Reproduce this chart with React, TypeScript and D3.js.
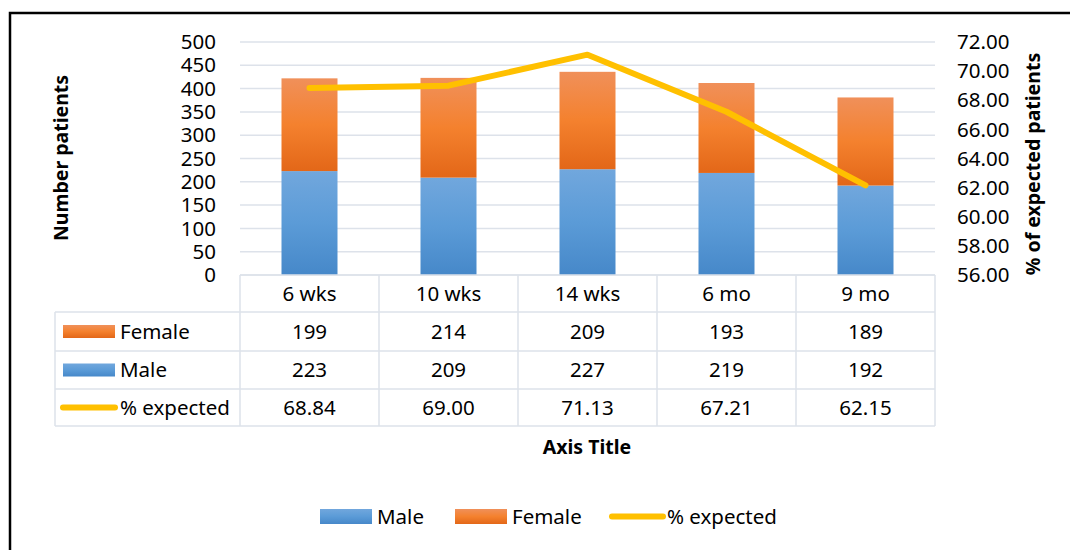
import React from "react";
import * as d3 from "d3";

const categories = ["6 wks", "10 wks", "14 wks", "6 mo", "9 mo"];
const maleValues = [223, 209, 227, 219, 192];
const femaleValues = [199, 214, 209, 193, 189];
const pctExpected = [68.84, 69.0, 71.13, 67.21, 62.15];
const pctLabels = ["68.84", "69.00", "71.13", "67.21", "62.15"];
const leftTicks = [0, 50, 100, 150, 200, 250, 300, 350, 400, 450, 500];
const rightTicks = [56, 58, 60, 62, 64, 66, 68, 70, 72];

const FONT = "Noto Sans, sans-serif";

export default function App() {
  const W = 1070, H = 550;
  const plotL = 240, plotR = 935, plotT = 42, plotB = 275;
  const x = d3.scaleBand<string>().domain(categories).range([plotL, plotR]).paddingInner(0).paddingOuter(0);
  const yL = d3.scaleLinear().domain([0, 500]).range([plotB, plotT]);
  const yR = d3.scaleLinear().domain([56, 72]).range([plotB, plotT]);
  const barW = 56;
  const cx = (c: string) => (x(c) as number) + x.bandwidth() / 2;

  const line = d3.line<number>()
    .x((_, i) => cx(categories[i]))
    .y((d) => yR(d));

  const rowTops = [275, 312, 351, 389, 426];
  const tableLeft = 55;
  const gridColor = "#dde2ea";
  const fs = 20.5;
  const tfs = 19.5;

  const rows = [
    { name: "Female", type: "bar", fill: "url(#gFemale)", vals: femaleValues.map(String) },
    { name: "Male", type: "bar", fill: "url(#gMale)", vals: maleValues.map(String) },
    { name: "% expected", type: "line", fill: "#FFC000", vals: pctLabels },
  ];

  return (
    <svg width={W} height={H} style={{ position: "absolute", left: 0, top: 0, background: "#fff" }} fontFamily={FONT}>
      <defs>
        <linearGradient id="gMale" x1="0" y1="0" x2="0" y2="1">
          <stop offset="0" stopColor="#71a7dd" />
          <stop offset="0.5" stopColor="#5b9bd7" />
          <stop offset="1" stopColor="#4688c9" />
        </linearGradient>
        <linearGradient id="gFemale" x1="0" y1="0" x2="0" y2="1">
          <stop offset="0" stopColor="#f0905a" />
          <stop offset="0.5" stopColor="#f4812e" />
          <stop offset="1" stopColor="#e36718" />
        </linearGradient>
      </defs>
      <rect x={0} y={0} width={W} height={H} fill="#fff" />
      <rect x={10} y={13} width={1080} height={560} fill="none" stroke="#000" strokeWidth={2.5} />

      {/* gridlines */}
      {leftTicks.map((t) => (
        <line key={t} x1={plotL} x2={plotR} y1={yL(t)} y2={yL(t)} stroke={gridColor} strokeWidth={1.5} />
      ))}

      {/* left ticks */}
      {leftTicks.map((t) => (
        <text key={"l" + t} x={216} y={yL(t)} dy="0.35em" textAnchor="end" fontSize={fs} fill="#000">{t}</text>
      ))}
      {/* right ticks */}
      {rightTicks.map((t) => (
        <text key={"r" + t} x={957} y={yR(t)} dy="0.35em" textAnchor="start" fontSize={fs} fill="#000">{t.toFixed(2)}</text>
      ))}

      {/* axis titles */}
      <text transform={`translate(68,158) rotate(-90)`} textAnchor="middle" fontSize={tfs} fontWeight="bold" fill="#000">Number patients</text>
      <text transform={`translate(1040,164) rotate(-90)`} textAnchor="middle" fontSize={tfs} fontWeight="bold" fill="#000">% of expected patients</text>

      {/* bars */}
      {categories.map((c, i) => (
        <g key={c}>
          <rect x={cx(c) - barW / 2} y={yL(maleValues[i])} width={barW} height={yL(0) - yL(maleValues[i])} fill="url(#gMale)" />
          <rect x={cx(c) - barW / 2} y={yL(maleValues[i] + femaleValues[i])} width={barW} height={yL(maleValues[i]) - yL(maleValues[i] + femaleValues[i])} fill="url(#gFemale)" />
        </g>
      ))}

      {/* line */}
      <path d={line(pctExpected) || ""} fill="none" stroke="#FFC000" strokeWidth={6} strokeLinecap="round" strokeLinejoin="round" />

      {/* data table */}
      <g stroke={gridColor} strokeWidth={1.5} fill="none">
        <line x1={plotL} x2={plotR} y1={rowTops[0]} y2={rowTops[0]} />
        {rowTops.slice(1).map((y) => (
          <line key={y} x1={tableLeft} x2={plotR} y1={y} y2={y} />
        ))}
        <line x1={tableLeft} x2={tableLeft} y1={rowTops[1]} y2={rowTops[4]} />
        {[plotL, ...categories.map((c) => (x(c) as number) + x.bandwidth())].map((xx) => (
          <line key={xx} x1={xx} x2={xx} y1={rowTops[0]} y2={rowTops[4]} />
        ))}
      </g>
      {categories.map((c) => (
        <text key={"h" + c} x={cx(c)} y={(rowTops[0] + rowTops[1]) / 2} dy="0.35em" textAnchor="middle" fontSize={fs} fill="#000">{c}</text>
      ))}
      {rows.map((r, ri) => {
        const yc = (rowTops[ri + 1] + rowTops[ri + 2]) / 2;
        return (
          <g key={r.name}>
            {r.type === "bar" ? (
              <rect x={63} y={yc - 6.5} width={52} height={13} fill={r.fill} />
            ) : (
              <line x1={63} x2={115} y1={yc} y2={yc} stroke="#FFC000" strokeWidth={6} strokeLinecap="round" />
            )}
            <text x={120} y={yc} dy="0.35em" fontSize={fs} fill="#000">{r.name}</text>
            {r.vals.map((v, i) => (
              <text key={i} x={cx(categories[i])} y={yc} dy="0.35em" textAnchor="middle" fontSize={fs} fill="#000">{v}</text>
            ))}
          </g>
        );
      })}

      {/* x axis title */}
      <text x={587} y={447} dy="0.35em" textAnchor="middle" fontSize={tfs} fontWeight="bold" fill="#000">Axis Title</text>

      {/* legend */}
      <rect x={320} y={509} width={52} height={15} fill="url(#gMale)" />
      <text x={377} y={516.5} dy="0.35em" fontSize={fs} fill="#000">Male</text>
      <rect x={455} y={509} width={52} height={15} fill="url(#gFemale)" />
      <text x={512} y={516.5} dy="0.35em" fontSize={fs} fill="#000">Female</text>
      <line x1={612} x2={663} y1={516.5} y2={516.5} stroke="#FFC000" strokeWidth={6} strokeLinecap="round" />
      <text x={667} y={516.5} dy="0.35em" fontSize={fs} fill="#000">% expected</text>
    </svg>
  );
}
